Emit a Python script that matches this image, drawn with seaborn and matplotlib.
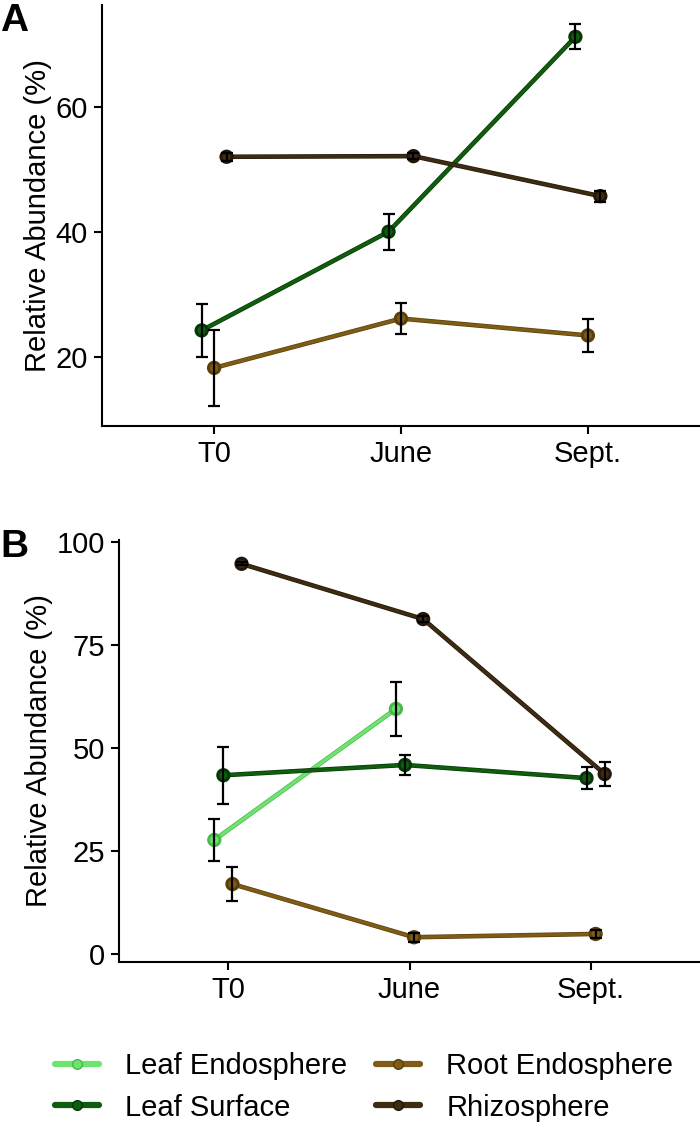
import numpy as np
import matplotlib
matplotlib.use('Agg')
import matplotlib.pyplot as plt
import matplotlib.patheffects as pe
from matplotlib.lines import Line2D
import pandas as pd
import seaborn as sns

# categories
months = ['T0', 'June', 'Sept.']
groups = ['Leaf Endosphere', 'Leaf Surface', 'Root Endosphere', 'Rhizosphere']
colors = ['#6FE36F', '#0E5E0E', '#7E5C16', '#3E2C12']
edges = ['#4DB84D', '#063806', '#5A400C', '#22170A']

# panel A (no leaf endosphere)
a_group = ['Leaf Surface'] * 3 + ['Root Endosphere'] * 3 + ['Rhizosphere'] * 3
a_month = months * 3
a_mean = [24.2, 40.0, 71.2, 18.2, 26.1, 23.4, 52.0, 52.1, 45.7]
a_se = [4.2, 2.9, 2.0, 6.1, 2.5, 2.7, 0.6, 0.5, 0.9]

# panel B
b_group = ['Leaf Endosphere'] * 2 + ['Leaf Surface'] * 3 + ['Root Endosphere'] * 3 + ['Rhizosphere'] * 3
b_month = ['T0', 'June'] + months * 3
b_mean = [27.7, 59.5, 43.4, 45.9, 42.7, 17.0, 4.1, 4.9, 94.7, 81.3, 43.7]
b_se = [5.2, 6.6, 6.9, 2.5, 2.7, 4.1, 1.1, 1.0, 0.4, 0.8, 2.9]

sns.set_style('ticks')
plt.rcParams['font.family'] = ['Liberation Sans', 'DejaVu Sans']
plt.rcParams['text.color'] = 'black'
plt.rcParams['axes.labelcolor'] = 'black'

pal = dict(zip(groups, colors))
edge = dict(zip(groups, edges))


def make_df(g, m, mean, se, width=0.2):
    df = pd.DataFrame({'group': g, 'month': m, 'mean': mean, 'se': se})
    present = [x for x in groups if x in df['group'].unique()]
    n = len(present)
    offs = {x: (i - (n - 1) / 2) * width / n for i, x in enumerate(present)}
    df['x'] = df['month'].map({mm: i + 1 for i, mm in enumerate(months)}) + df['group'].map(offs)
    return df


def draw_panel(ax, df, ylim, yticks):
    for g in groups:
        sub = df[df['group'] == g]
        if sub.empty:
            continue
        sns.lineplot(data=sub, x='x', y='mean', color=pal[g], marker='o', markersize=7,
                     markeredgecolor=edge[g], markeredgewidth=1, linewidth=2.3,
                     errorbar=None, ax=ax, legend=False)
        ax.lines[-1].set_path_effects([pe.Stroke(linewidth=3.3, foreground=edge[g]), pe.Normal()])
    ax.errorbar(df['x'], df['mean'], yerr=df['se'], fmt='none', ecolor='black',
                elinewidth=1.6, capsize=4.5, capthick=1.6, zorder=5)
    ax.set_xlim(0.4, 3.6)
    ax.set_ylim(*ylim)
    ax.set_xticks([1, 2, 3])
    ax.set_xticklabels(months)
    ax.set_yticks(yticks)
    ax.set_xlabel('')
    ax.set_ylabel('Relative Abundance (%)', fontsize=21, labelpad=3)
    ax.tick_params(labelsize=21, length=6, width=1.5, color='black', labelcolor='black', pad=4)
    sns.despine(ax=ax)
    for s in ['left', 'bottom']:
        ax.spines[s].set_linewidth(1.5)
        ax.spines[s].set_color('black')


fig = plt.figure(figsize=(7, 11.3), dpi=100)
ax1 = fig.add_axes([0.1457, 0.623, 0.8543, 0.3726])
ax2 = fig.add_axes([0.17, 0.1487, 0.83, 0.3735])

draw_panel(ax1, make_df(a_group, a_month, a_mean, a_se), (8.9, 76.3), [20, 40, 60])
draw_panel(ax2, make_df(b_group, b_month, b_mean, b_se), (-1.9, 100.5), [0, 25, 50, 75, 100])

fig.text(0.0, 0.997, 'A', fontsize=28, fontweight='bold', va='top', ha='left')
fig.text(0.0, 0.532, 'B', fontsize=28, fontweight='bold', va='top', ha='left')

handles = []
for g in groups:
    h = Line2D([], [], color=pal[g], linewidth=4.5, marker='o', markersize=7,
               markeredgecolor=edge[g])
    handles.append(h)
fig.legend(handles, groups, loc='center', bbox_to_anchor=(0.52, 0.038), ncol=2,
           frameon=False, fontsize=21, handlelength=1.5, columnspacing=1.0,
           handletextpad=0.9, labelspacing=0.45)

fig.savefig('out.png', dpi=100)
